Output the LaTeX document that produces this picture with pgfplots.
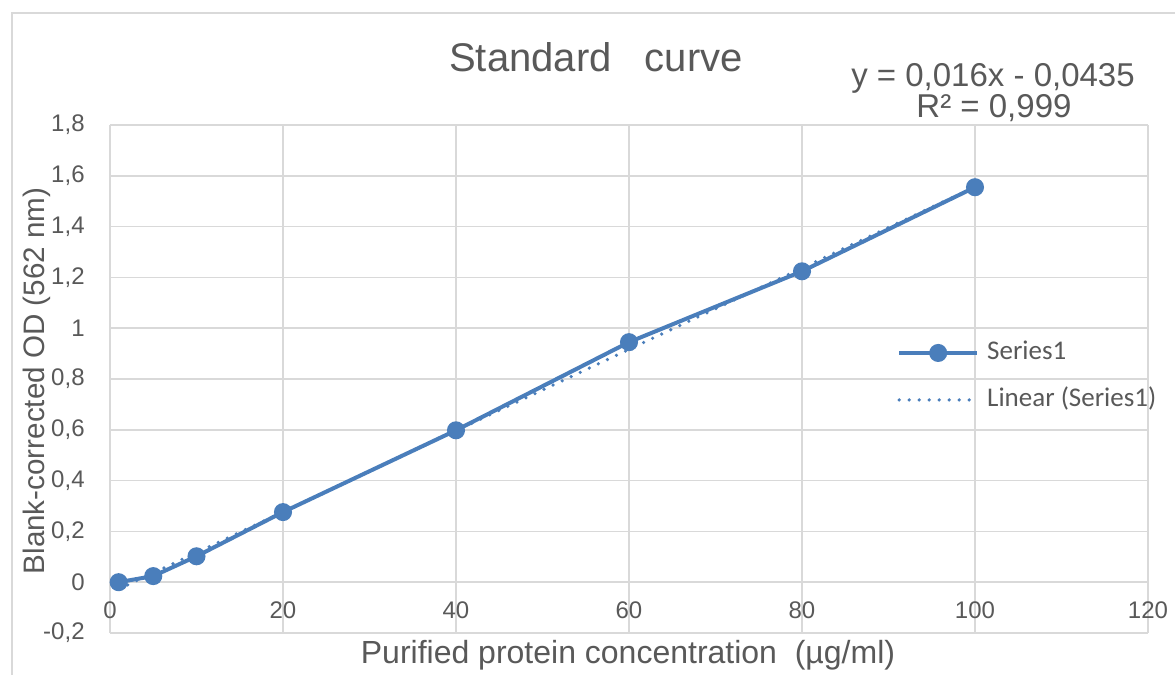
\documentclass[border=0pt]{standalone}
\usepackage{fontspec}
\setmainfont{Liberation Sans}
\newfontfamily\legfont{Carlito}
\usepackage{pgfplots}
\pgfplotsset{compat=1.18}
\definecolor{ser}{HTML}{4A7EBB}
\definecolor{grd}{HTML}{D9D9D9}
\definecolor{txt}{HTML}{595959}
\pgfplotsset{
  serleg/.style={legend image code/.code={\draw[mark repeat=2,mark phase=2,##1] plot coordinates {(0pt,0pt) (19.5pt,0pt) (39pt,0pt)};}},
  trendleg/.style={legend image code/.code={\draw[##1] (0pt,0pt) -- (39pt,0pt);}},
}
\begin{document}
\begin{tikzpicture}
\useasboundingbox (-55pt,-21pt) rectangle (532.5pt,316.5pt);
\fill[white] (-55pt,-21pt) rectangle (532.5pt,316.5pt);
\draw[grd, line width=0.75pt] (-49pt,-21pt) -- (-49pt,310pt) -- (532.5pt,310pt);
\begin{axis}[
  at={(0pt,0pt)}, anchor=south west, scale only axis,
  width=519pt, height=254pt,
  xmin=0, xmax=120, ymin=-0.2, ymax=1.8,
  xtick={0,20,40,60,80,100,120},
  ytick={-0.2,0,0.2,0.4,0.6,0.8,1,1.2,1.4,1.6,1.8},
  /pgf/number format/use comma,
  /pgf/number format/assume math mode=true,
  grid=major,
  major grid style={grd, line width=0.75pt},
  axis line style={draw=none},
  major tick length=0pt,
  tick label style={font=\fontsize{12}{14}\selectfont, text=txt},
  xticklabel style={anchor=center, yshift=11.5pt},
  yticklabel style={anchor=east, inner sep=0pt, xshift=-12.5pt},
  clip=false,
  legend cell align=left,
  legend style={draw=none, fill=none, inner sep=0pt,
    at={(0.758,0.505)}, anchor=west,
    font=\legfont\fontsize{13.5}{15}\selectfont, text=txt,
    nodes={inner sep=0pt, text height=9.5pt, text depth=2.5pt},
    row sep=11.5pt, column sep=4pt},
]
\addplot[ser, line width=2pt, mark=*, mark size=3.5pt, mark options={fill=ser, draw=ser}, serleg]
  coordinates {(1,0.0) (5,0.024) (10,0.102) (20,0.276) (40,0.598) (60,0.945) (80,1.224) (100,1.555)};
\addlegendentry{Series1}
\addplot[ser, line width=1.8pt, line cap=round, dash pattern=on 0pt off 5pt, trendleg]
  coordinates {(1,-0.0275) (100,1.5565)};
\addlegendentry{Linear (Series1)}
\end{axis}
\node[text=txt, font=\fontsize{20}{23}\selectfont] at (243pt,288pt) {Standard\ \ \ curve};
\node[text=txt, font=\fontsize{16.5}{19}\selectfont] at (441.5pt,277.5pt) {y = 0,016x - 0,0435};
\node[text=txt, font=\fontsize{16.5}{19}\selectfont] at (442pt,262.5pt) {R² = 0,999};
\node[text=txt, font=\fontsize{16}{19}\selectfont] at (259pt,-11pt) {Purified protein concentration\ \ (µg/ml)};
\node[text=txt, font=\fontsize{14.8}{18}\selectfont, rotate=90] at (-36.5pt,126pt) {Blank-corrected OD (562 nm)};
\end{tikzpicture}
\end{document}
